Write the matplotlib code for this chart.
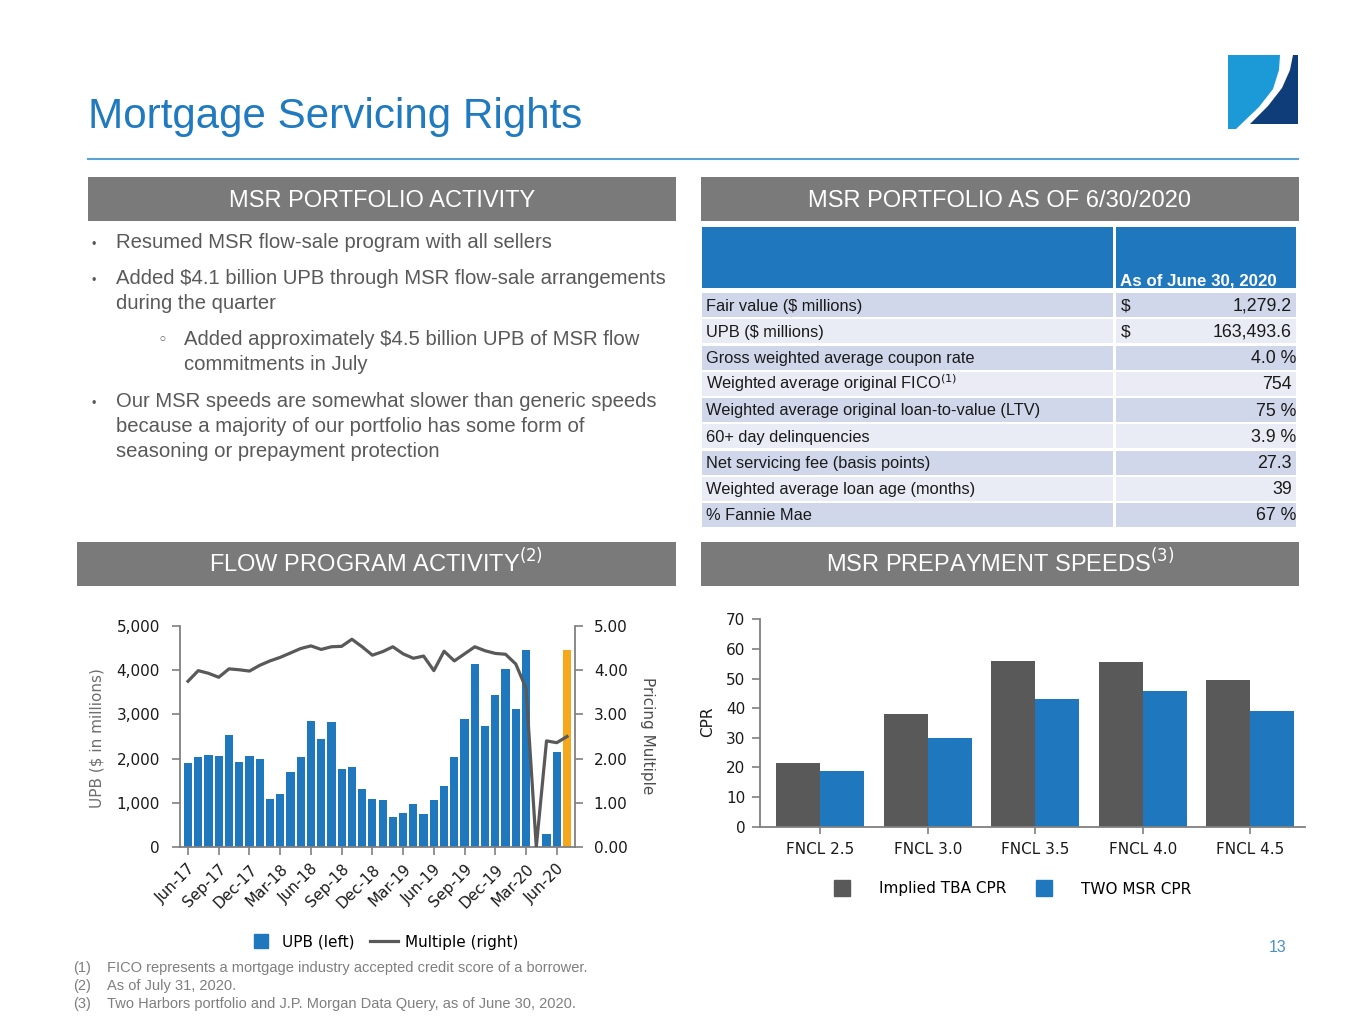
import matplotlib
matplotlib.use("Agg")
import matplotlib.pyplot as plt
from matplotlib.patches import Rectangle, Polygon
from matplotlib.lines import Line2D
from matplotlib.ticker import FuncFormatter, FormatStrFormatter

# ---------------- data ----------------
months = ["Jun-17", "Jul-17", "Aug-17", "Sep-17", "Oct-17", "Nov-17", "Dec-17", "Jan-18", "Feb-18", "Mar-18",
          "Apr-18", "May-18", "Jun-18", "Jul-18", "Aug-18", "Sep-18", "Oct-18", "Nov-18", "Dec-18", "Jan-19",
          "Feb-19", "Mar-19", "Apr-19", "May-19", "Jun-19", "Jul-19", "Aug-19", "Sep-19", "Oct-19", "Nov-19",
          "Dec-19", "Jan-20", "Feb-20", "Mar-20", "Apr-20", "May-20", "Jun-20", "Jul-20"]
upb = [1900, 2025, 2090, 2060, 2540, 1920, 2060, 1990, 1090, 1190,
       1700, 2030, 2860, 2440, 2820, 1770, 1800, 1320, 1090, 1060,
       670, 780, 970, 750, 1070, 1390, 2030, 2900, 4150, 2730,
       3440, 4020, 3130, 4460, 0, 290, 2150, 4460]
multiple = [3.75, 3.99, 3.93, 3.84, 4.03, 4.01, 3.98, 4.11, 4.21, 4.29,
            4.39, 4.49, 4.55, 4.47, 4.53, 4.54, 4.70, 4.53, 4.34, 4.42,
            4.53, 4.37, 4.27, 4.32, 3.99, 4.43, 4.21, 4.37, 4.53, 4.44,
            4.38, 4.36, 4.14, 3.59, 0.00, 2.40, 2.36, 2.50]
month_ticks = ["Jun-17", "Sep-17", "Dec-17", "Mar-18", "Jun-18", "Sep-18", "Dec-18",
               "Mar-19", "Jun-19", "Sep-19", "Dec-19", "Mar-20", "Jun-20"]
highlight_month = "Jul-20"

cpr_cats = ["FNCL 2.5", "FNCL 3.0", "FNCL 3.5", "FNCL 4.0", "FNCL 4.5"]
tba_cpr = [21.4, 38.0, 55.9, 55.5, 49.6]
two_cpr = [18.9, 30.0, 43.0, 45.8, 39.1]

table_labels = ["Fair value ($ millions)", "UPB ($ millions)", "Gross weighted average coupon rate",
                "Weighted average original FICO$^{(1)}$", "Weighted average original loan-to-value (LTV)",
                "60+ day delinquencies", "Net servicing fee (basis points)",
                "Weighted average loan age (months)", "% Fannie Mae"]
table_values = ["1,279.2", "163,493.6", "4.0 %", "754", "75 %", "3.9 %", "27.3", "39", "67 %"]
table_dollar = [True, True, False, False, False, False, False, False, False]
table_header = "As of June 30, 2020"

bullets = [
    (0, ["Resumed MSR flow-sale program with all sellers"]),
    (0, ["Added $4.1 billion UPB through MSR flow-sale arrangements", "during the quarter"]),
    (1, ["Added approximately $4.5 billion UPB of MSR flow", "commitments in July"]),
    (0, ["Our MSR speeds are somewhat slower than generic speeds",
         "because a majority of our portfolio has some form of",
         "seasoning or prepayment protection"]),
]
footnotes = [("(1)", "FICO represents a mortgage industry accepted credit score of a borrower."),
             ("(2)", "As of July 31, 2020."),
             ("(3)", "Two Harbors portfolio and J.P. Morgan Data Query, as of June 30, 2020.")]

# ---------------- style ----------------
BLUE = "#1F78BE"
ORANGE = "#F6A81C"
DGRAY = "#595959"
HDR_GRAY = "#7A7A7A"
TXT_GRAY = "#595959"
AXC = "#808080"
TXT = "#1a1a1a"
SANS = ["Liberation Sans", "DejaVu Sans"]
NARROW = ["Liberation Sans Narrow", "Liberation Sans", "DejaVu Sans"]
plt.rcParams["font.family"] = ["DejaVu Sans"]
plt.rcParams["mathtext.fontset"] = "dejavusans"

W, H = 1365, 1024
fig = plt.figure(figsize=(W / 100, H / 100), dpi=100)
fig.patch.set_facecolor("white")

bg = fig.add_axes([0, 0, 1, 1], zorder=0)
bg.set_xlim(0, W)
bg.set_ylim(H, 0)
bg.axis("off")

# title
bg.text(88, 128, "Mortgage Servicing Rights", fontsize=30.3, color="#1F7AC0", family=SANS, va="baseline")
bg.plot([88, 1298], [158.5, 158.5], color="#5BA3D6", lw=1.5)

# logo
bg.add_patch(Polygon([(1228, 55), (1280, 55), (1279, 70), (1273, 89), (1259, 107), (1236, 129), (1228, 129)],
                     closed=True, facecolor="#1B9AD7", edgecolor="none"))
bg.add_patch(Polygon([(1293, 55), (1298, 55), (1298, 124), (1250, 124), (1268, 106), (1282, 88), (1290, 70)],
                     closed=True, facecolor="#0F3D7A", edgecolor="none"))

# section headers
def header(x0, x1, y0, y1, text):
    bg.add_patch(Rectangle((x0, y0), x1 - x0, y1 - y0, facecolor=HDR_GRAY, edgecolor="none"))
    bg.text((x0 + x1) / 2, y1 - 14, text, fontsize=17, color="white", family=NARROW,
            ha="center", va="baseline")

header(88, 676, 177, 221, "MSR PORTFOLIO ACTIVITY")
header(701, 1299, 177, 221, "MSR PORTFOLIO AS OF 6/30/2020")
header(77, 676, 542, 586, "FLOW PROGRAM ACTIVITY$^{(2)}$")
header(701, 1299, 542, 586, "MSR PREPAYMENT SPEEDS$^{(3)}$")

# bullets
baselines = [248, 284, 309, 345, 370, 407, 432, 457]
k = 0
for level, lines in bullets:
    for j, line in enumerate(lines):
        y = baselines[k]
        if level == 0:
            tx = 116
            if j == 0:
                bg.text(92, y, "•", fontsize=9, color=TXT_GRAY, family=SANS, va="baseline")
        else:
            tx = 184
            if j == 0:
                bg.text(158, y, "◦", fontsize=12, color=TXT_GRAY, family=["DejaVu Sans"], va="baseline")
        bg.text(tx, y, line, fontsize=14.6, color=TXT_GRAY, family=SANS, va="baseline")
        k += 1

# table
hdr_top, hdr_bot = 227, 288
lx0, lx1, rx0, rx1 = 702, 1113, 1116, 1296
bg.add_patch(Rectangle((lx0, hdr_top), lx1 - lx0, hdr_bot - hdr_top, facecolor=BLUE, edgecolor="none"))
bg.add_patch(Rectangle((rx0, hdr_top), rx1 - rx0, hdr_bot - hdr_top, facecolor=BLUE, edgecolor="none"))
bg.text(1120, 285, table_header, fontsize=12.2, fontweight="bold", color="white", family=SANS, va="baseline")
row_top0, pitch, rh = 293, 26.25, 24
for i, (lab, val, dol) in enumerate(zip(table_labels, table_values, table_dollar)):
    top = row_top0 + i * pitch
    col = "#D0D7EA" if i % 2 == 0 else "#E9ECF5"
    bg.add_patch(Rectangle((lx0, top), lx1 - lx0, rh, facecolor=col, edgecolor="none"))
    bg.add_patch(Rectangle((rx0, top), rx1 - rx0, rh, facecolor=col, edgecolor="none"))
    yb = top + rh / 2 + 5.5
    bg.text(706, yb, lab, fontsize=11.8, color=TXT, family=SANS, va="baseline")
    if dol:
        bg.text(1121, yb, "$", fontsize=12.5, color=TXT, family=SANS, va="baseline")
    xr = 1296 if val.endswith("%") else 1292
    bg.text(xr, yb, val, fontsize=12.8, color=TXT, family=SANS, va="baseline", ha="right")

# footnotes
for i, (num, txt) in enumerate(footnotes):
    y = 972 + i * 18
    bg.text(73, y, num, fontsize=10.5, color="#7F7F7F", family=NARROW, va="baseline")
    bg.text(107, y, txt, fontsize=10.5, color="#7F7F7F", family=NARROW, va="baseline")

bg.text(1278, 947, "13", fontsize=11.5, color="#4A90C8", family=SANS, ha="center", va="center")

# ---------------- left chart ----------------
def fx(px): return px / W
def fy(py): return 1 - py / H

ax1 = fig.add_axes([fx(180), fy(847), (575 - 180) / W, (847 - 626) / H], zorder=2)
ax1.set_facecolor("none")
xs = list(range(len(months)))
colors = [ORANGE if m == highlight_month else BLUE for m in months]
ax1.bar(xs, upb, width=0.8, color=colors, zorder=2)
ax1.set_xlim(-0.78, len(months) - 1 + 0.78)
ax1.set_ylim(0, 5000)
ax1.set_yticks(range(0, 5001, 1000))
ax1.yaxis.set_major_formatter(FuncFormatter(lambda v, p: f"{v:,.0f}"))
tick_idx = [months.index(m) for m in month_ticks]
ax1.set_xticks(tick_idx)
ax1.set_xticklabels(month_ticks, rotation=45, ha="right", va="top", rotation_mode="anchor")
for s in ["top", "right"]:
    ax1.spines[s].set_visible(False)
for s in ["left", "bottom"]:
    ax1.spines[s].set_color(AXC)
    ax1.spines[s].set_linewidth(1.3)
ax1.tick_params(axis="y", length=5.5, width=1.2, color=AXC, labelsize=11, labelcolor=TXT, pad=9)
ax1.tick_params(axis="x", length=5.5, width=1.2, color=AXC, labelsize=11, labelcolor=TXT, pad=5)

ax2 = ax1.twinx()
ax2.set_zorder(3)
ax2.plot(xs, multiple, color=DGRAY, lw=2.3, zorder=3)
ax2.set_ylim(0, 5)
ax2.set_yticks([0, 1, 2, 3, 4, 5])
ax2.yaxis.set_major_formatter(FormatStrFormatter("%.2f"))
for s in ["top", "left", "bottom"]:
    ax2.spines[s].set_visible(False)
ax2.spines["right"].set_color(AXC)
ax2.spines["right"].set_linewidth(1.3)
ax2.tick_params(axis="y", length=5.5, width=1.2, color=AXC, labelsize=11, labelcolor=TXT, pad=8)

bg.text(97, 738, "UPB ($ in millions)", fontsize=11, color="#6E6E6E", rotation=90, ha="center", va="center")
bg.text(648, 736, "Pricing Multiple", fontsize=11, color="#4D4D4D", rotation=270, ha="center", va="center")

h_upb = Line2D([], [], marker="s", markersize=10.5, linestyle="none", color=BLUE)
h_mul = Line2D([], [], color=DGRAY, lw=2.3)
fig.legend([h_upb, h_mul], ["UPB (left)", "Multiple (right)"], loc="center",
           bbox_to_anchor=(fx(383), fy(942)), ncol=2, frameon=False, fontsize=11,
           handlelength=1.8, handletextpad=0.5, columnspacing=1.0)

# ---------------- right chart ----------------
ax3 = fig.add_axes([fx(760), fy(826.7), (1305 - 760) / W, (826.7 - 619.3) / H], zorder=2)
ax3.set_facecolor("none")
cx = list(range(len(cpr_cats)))
bw = 0.41
ax3.bar([c - bw / 2 for c in cx], tba_cpr, width=bw, color=DGRAY, label="Implied TBA CPR")
ax3.bar([c + bw / 2 for c in cx], two_cpr, width=bw, color=BLUE, label="TWO MSR CPR")
ax3.set_xlim(-0.56, len(cpr_cats) - 1 + 0.51)
ax3.set_ylim(0, 70)
ax3.set_yticks(range(0, 71, 10))
ax3.set_xticks(cx)
ax3.set_xticklabels(cpr_cats)
for s in ["top", "right"]:
    ax3.spines[s].set_visible(False)
for s in ["left", "bottom"]:
    ax3.spines[s].set_color(AXC)
    ax3.spines[s].set_linewidth(1.3)
ax3.tick_params(axis="y", length=5.5, width=1.2, color=AXC, labelsize=11, labelcolor=TXT, pad=5)
ax3.tick_params(axis="x", length=5, width=1.2, color=AXC, labelsize=11, labelcolor=TXT, pad=6)
bg.text(708, 722, "CPR", fontsize=11, color=TXT, rotation=90, ha="center", va="center")

h_tba = Line2D([], [], marker="s", markersize=11, linestyle="none", color=DGRAY)
h_two = Line2D([], [], marker="s", markersize=11, linestyle="none", color=BLUE)
fig.legend([h_tba, h_two], ["Implied TBA CPR", "TWO MSR CPR"], loc="center",
           bbox_to_anchor=(fx(1013), fy(889)), ncol=2, frameon=False, fontsize=11,
           handlelength=1.0, handletextpad=1.9, columnspacing=2.0)

fig.savefig("out.png", dpi=100, facecolor="white")
